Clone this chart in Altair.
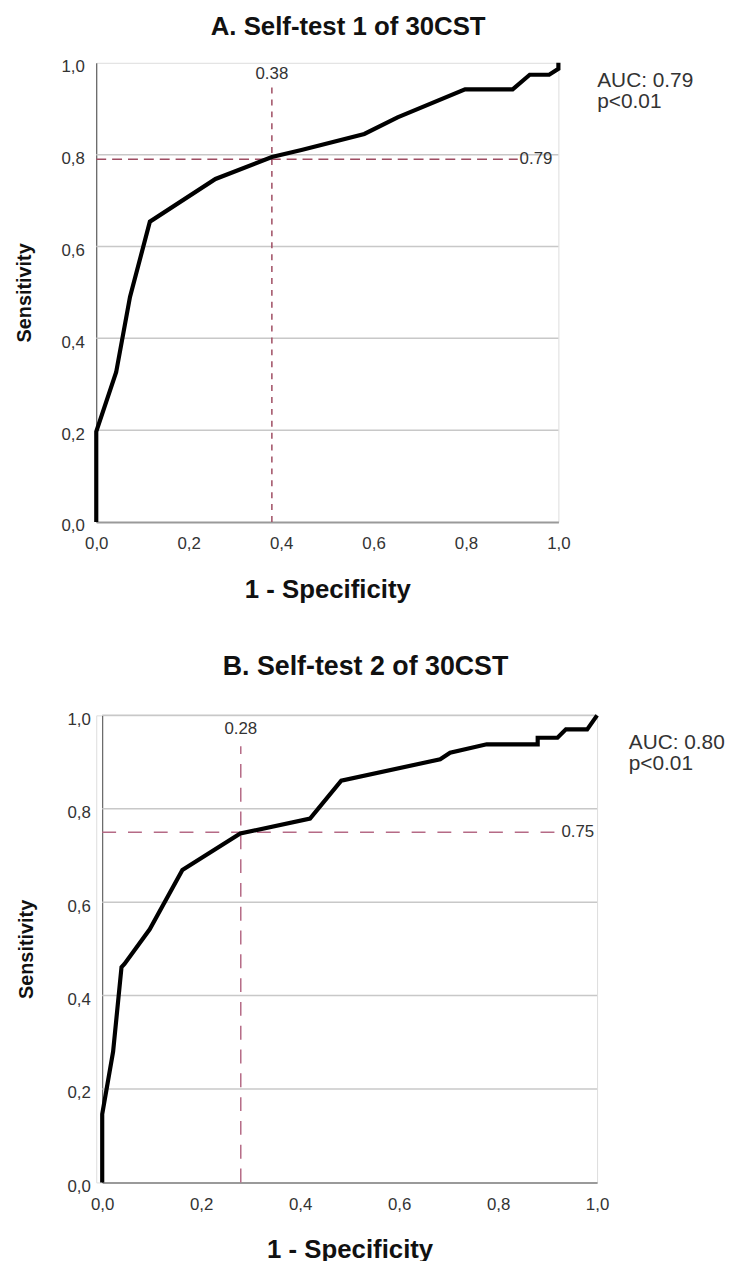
import altair as alt
import pandas as pd

# ---- data ----
a_fpr = [0.0, 0.0, 0.043, 0.073, 0.116, 0.258, 0.38, 0.444, 0.58, 0.652, 0.798, 0.901, 0.938, 0.98, 1.0, 1.0]
a_tpr = [0.0, 0.197, 0.326, 0.49, 0.654, 0.747, 0.795, 0.81, 0.845, 0.881, 0.942, 0.942, 0.974, 0.974, 0.987, 1.0]

b_fpr = [0.0, 0.0, 0.022, 0.039, 0.045, 0.096, 0.162, 0.279, 0.42, 0.483, 0.683, 0.703, 0.777, 0.88, 0.88, 0.92, 0.937, 0.98, 1.0]
b_tpr = [0.0, 0.146, 0.28, 0.461, 0.468, 0.542, 0.669, 0.747, 0.779, 0.86, 0.906, 0.92, 0.938, 0.938, 0.952, 0.952, 0.97, 0.97, 1.0]

a_cut_x, a_cut_y = 0.38, 0.79
b_cut_x, b_cut_y = 0.28, 0.75
a_auc = "AUC: 0.79\np<0.01"
b_auc = "AUC: 0.80\np<0.01"
titles = ["A. Self-test 1 of 30CST", "B. Self-test 2 of 30CST"]
tick_values = [0.0, 0.2, 0.4, 0.6, 0.8, 1.0]
a_grid = [0.2, 0.4, 0.6, 0.8]
b_grid = [0.2, 0.4, 0.6, 0.8, 1.0]

FONT = "Liberation Sans"
LBL = "replace(format(datum.value, '.1f'), '.', ',')"


def panel(fpr, tpr, cut_x, cut_y, auc, grid, title, w, h, shift, dash_color, hdash, vdash,
          v_top, h_right, lab_y, auc_x, auc_y, ytitle_pad, title_dx, title_off, title_size):
    xs = alt.Scale(domain=[0, 1], nice=False, zero=False, range=[shift, shift + w])
    ys = alt.Scale(domain=[0, 1], nice=False, zero=False)

    curve = pd.DataFrame({"x": fpr, "y": tpr, "i": list(range(len(fpr)))})
    gdf = pd.DataFrame({"y": grid, "x0": [0.0] * len(grid), "x1": [1.0] * len(grid)})

    xaxis = alt.Axis(values=tick_values, labelExpr=LBL, ticks=False, grid=False,
                     domainColor="#9a9a9a", domainWidth=2, labelFlush=False,
                     labelFontSize=17, labelColor="#333333", labelFont=FONT, labelPadding=14,
                     title="1 - Specificity", titleFont=FONT, titleFontSize=26,
                     titleFontWeight="bold", titleColor="#111111", titlePadding=25)
    yaxis = alt.Axis(values=tick_values, labelExpr=LBL, ticks=False, grid=False,
                     domainColor="#444444", domainWidth=1, labelFlush=False,
                     labelFontSize=17, labelColor="#333333", labelFont=FONT, labelPadding=12,
                     labelOffset=4, offset=-shift,
                     title="Sensitivity", titleFont=FONT, titleFontSize=20,
                     titleFontWeight="bold", titleColor="#111111", titlePadding=ytitle_pad)

    X = lambda f: alt.X(f, type="quantitative", scale=xs, axis=xaxis)
    Y = lambda f: alt.Y(f, type="quantitative", scale=ys, axis=yaxis)

    grid_layer = alt.Chart(gdf).mark_rule(color="#c8c8c8", strokeWidth=1.5).encode(
        x=X("x0"), x2="x1", y=Y("y"))

    vline = alt.Chart(pd.DataFrame({"x": [cut_x], "y": [0.0], "y2": [v_top]})).mark_rule(
        color=dash_color, strokeDash=vdash, strokeWidth=1.5).encode(
        x=X("x"), y=Y("y"), y2="y2")
    hline = alt.Chart(pd.DataFrame({"x": [0.0], "x2": [h_right], "y": [cut_y]})).mark_rule(
        color=dash_color, strokeDash=hdash, strokeWidth=1.5).encode(
        x=X("x"), x2="x2", y=Y("y"))

    line = alt.Chart(curve).mark_line(color="black", strokeWidth=4.2).encode(
        x=X("x"), y=Y("y"), order="i:Q")

    vlab = alt.Chart(pd.DataFrame({"x": [cut_x], "y": [lab_y], "t": [f"{cut_x:.2f}"]})).mark_text(
        fontSize=17, font=FONT, color="#333333", baseline="middle", align="center").encode(
        x=X("x"), y=Y("y"), text="t:N")
    hlab = alt.Chart(pd.DataFrame({"x": [h_right + 0.004], "y": [cut_y], "t": [f"{cut_y:.2f}"]})).mark_text(
        fontSize=17, font=FONT, color="#333333", baseline="middle", align="left").encode(
        x=X("x"), y=Y("y"), text="t:N")
    auc_t = alt.Chart(pd.DataFrame({"x": [auc_x], "y": [auc_y], "t": [auc]})).mark_text(
        fontSize=21, font=FONT, color="#333333", baseline="top", align="left",
        lineBreak="\n", lineHeight=22).encode(
        x=X("x"), y=Y("y"), text="t:N")

    return alt.layer(grid_layer, vline, hline, line, vlab, hlab, auc_t).properties(
        width=w + shift, height=h,
        title=alt.TitleParams(title, font=FONT, fontSize=title_size, fontWeight="bold",
                              color="#111111", anchor="middle", dx=title_dx, offset=title_off))


pa = panel(a_fpr, a_tpr, a_cut_x, a_cut_y, a_auc, a_grid, titles[0], 466, 463, 0,
           "#9e4c62", [10, 6], [6, 6], 0.95, 0.912, 0.976, 1.084, 0.985, 27, 21, 15, 26)
pb = panel(b_fpr, b_tpr, b_cut_x, b_cut_y, b_auc, b_grid, titles[1], 499, 471, 6,
           "#b56a86", [14, 12], [14, 10], 0.934, 0.924, 0.97, 1.064, 0.965, 31, 19, 26, 27)

chart = alt.concat(pa, pb, columns=1, align="none", spacing=50).properties(
    padding={"left": 5, "top": 0, "right": 0, "bottom": 0}
).configure_view(stroke=None).configure(background="white")

chart.save("out.html", embed_options={"renderer": "svg", "actions": False})
